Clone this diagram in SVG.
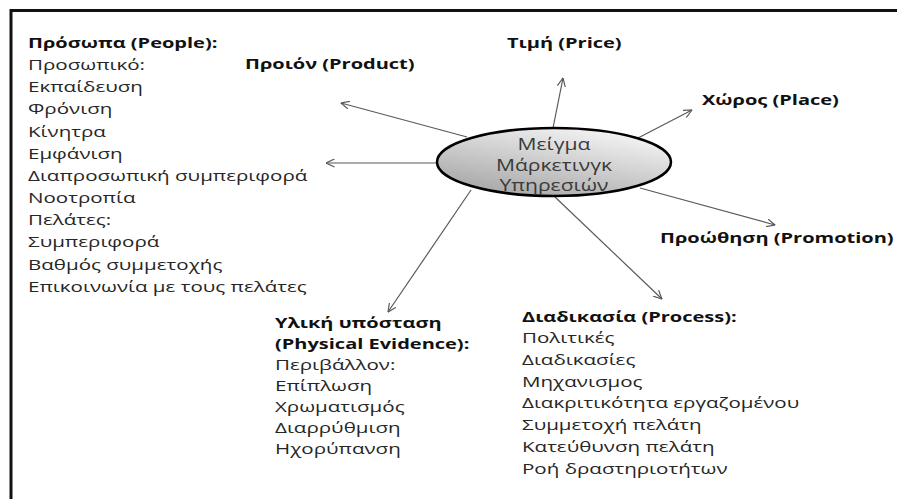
<svg xmlns="http://www.w3.org/2000/svg" width="897" height="499" viewBox="0 0 897 499">
<defs>
<style>
text{font-family:"Open Sans","Liberation Sans",sans-serif;font-size:15px;fill:#262626}
.h{font-weight:bold;font-size:14.6px;fill:#111}
.c{font-size:16px;fill:#3a3a3a;text-anchor:middle}
.ln{stroke:#5a5a5a;stroke-width:1.2;fill:none;marker-end:url(#ah)}
</style>
<marker id="ah" viewBox="0 0 10 10" refX="9.5" refY="5" markerWidth="9" markerHeight="9" markerUnits="userSpaceOnUse" orient="auto">
<path d="M0,0.5 L9.5,5 L0,9.5" fill="none" stroke="#5a5a5a" stroke-width="1.3"/>
</marker>
<linearGradient id="eg" x1="0.8" y1="0" x2="0.2" y2="1">
<stop offset="0" stop-color="#f8f8f8"/>
<stop offset="1" stop-color="#a4a4a4"/>
</linearGradient>
</defs>
<rect width="897" height="499" fill="#fff"/>
<path d="M11,499 V10.5 H897" fill="none" stroke="#111" stroke-width="3"/>
<g id="connectors">
<line class="ln" x1="467" y1="137" x2="341" y2="103"/>
<line class="ln" x1="437" y1="163" x2="326" y2="163"/>
<line class="ln" x1="471" y1="190" x2="388" y2="312"/>
<line class="ln" x1="553" y1="128" x2="563" y2="78"/>
<line class="ln" x1="638" y1="138" x2="692" y2="110"/>
<line class="ln" x1="640" y1="188" x2="775" y2="225"/>
<line class="ln" x1="555" y1="197" x2="662" y2="299"/>
</g>
<g id="center">
<ellipse cx="554" cy="162" rx="117" ry="34" fill="url(#eg)" stroke="#000" stroke-width="2.5"/>
<g transform="translate(554,0) scale(1.32,1)">
<text class="c" x="0" y="150">Μείγμα</text>
<text class="c" x="0" y="171">Μάρκετινγκ</text>
<text class="c" x="0" y="191">Υπηρεσιών</text>
</g>
</g>
<g id="people" transform="translate(28,0) scale(1.37,1)">
<text class="h" x="0" y="48">Πρόσωπα (People):</text>
<text x="0" y="70">Προσωπικό:</text>
<text x="0" y="92">Εκπαίδευση</text>
<text x="0" y="114">Φρόνιση</text>
<text x="0" y="137">Κίνητρα</text>
<text x="0" y="159">Εμφάνιση</text>
<text x="0" y="181">Διαπροσωπική συμπεριφορά</text>
<text x="0" y="203">Νοοτροπία</text>
<text x="0" y="225">Πελάτες:</text>
<text x="0" y="247">Συμπεριφορά</text>
<text x="0" y="270">Βαθμός συμμετοχής</text>
<text x="0" y="292">Επικοινωνία με τους πελάτες</text>
</g>
<g id="product" transform="translate(245,0) scale(1.37,1)">
<text class="h" x="0" y="69">Προιόν (Product)</text>
</g>
<g id="price" transform="translate(507,0) scale(1.37,1)">
<text class="h" x="0" y="48">Τιμή (Price)</text>
</g>
<g id="place" transform="translate(702,0) scale(1.37,1)">
<text class="h" x="0" y="105">Χώρος (Place)</text>
</g>
<g id="promotion" transform="translate(660,0) scale(1.37,1)">
<text class="h" x="0" y="243">Προώθηση (Promotion)</text>
</g>
<g id="physical" transform="translate(275,0) scale(1.37,1)">
<text class="h" x="0" y="328">Υλική υπόσταση</text>
<text class="h" x="0" y="349">(Physical Evidence):</text>
<text x="0" y="370">Περιβάλλον:</text>
<text x="0" y="391">Επίπλωση</text>
<text x="0" y="412">Χρωματισμός</text>
<text x="0" y="433">Διαρρύθμιση</text>
<text x="0" y="454">Ηχορύπανση</text>
</g>
<g id="process" transform="translate(522,0) scale(1.37,1)">
<text class="h" x="0" y="322">Διαδικασία (Process):</text>
<text x="0" y="343">Πολιτικές</text>
<text x="0" y="365">Διαδικασίες</text>
<text x="0" y="387">Μηχανισμος</text>
<text x="0" y="408">Διακριτικότητα εργαζομένου</text>
<text x="0" y="430">Συμμετοχή πελάτη</text>
<text x="0" y="452">Κατεύθυνση πελάτη</text>
<text x="0" y="474">Ροή δραστηριοτήτων</text>
</g>
</svg>
